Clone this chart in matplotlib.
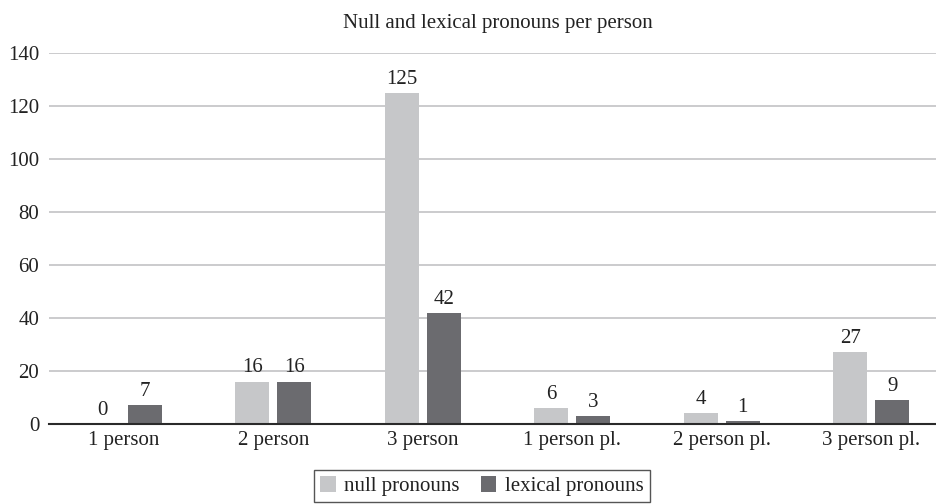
import matplotlib.pyplot as plt
import numpy as np

categories = ["1 person", "2 person", "3 person", "1 person pl.", "2 person pl.", "3 person pl."]
null_pronouns = [0, 16, 125, 6, 4, 27]
lexical_pronouns = [7, 16, 42, 3, 1, 9]

plt.rcParams['font.family'] = ['Liberation Serif', 'DejaVu Serif']
fs = 15

fig = plt.figure(figsize=(9.36, 5.04), dpi=100, facecolor='w')
# axes run a little past the right edge of the figure
ax = fig.add_axes([49 / 936, 80 / 504, 897 / 936, 371 / 504])

x = np.arange(len(categories))
width = 0.227
offset = 0.1405
c_null = '#c6c7c9'
c_lex = '#6b6b6f'

b1 = ax.bar(x - offset, null_pronouns, width, color=c_null, label='null pronouns', zorder=3)
b2 = ax.bar(x + offset, lexical_pronouns, width, color=c_lex, label='lexical pronouns', zorder=3)

for bars, vals in ((b1, null_pronouns), (b2, lexical_pronouns)):
    for rect, v in zip(bars, vals):
        ax.annotate(str(v), (rect.get_x() + rect.get_width() / 2, v),
                    xytext=(0, 3), textcoords='offset points',
                    ha='center', va='bottom', fontsize=fs, color='#222222')

ax.set_xlim(-0.5, len(categories) - 0.5)
ax.set_ylim(0, 140)
ax.set_yticks(range(0, 141, 20))
ax.set_xticks(x)
ax.set_xticklabels(categories)
ax.tick_params(axis='both', length=0, labelsize=fs, colors='#222222')
ax.tick_params(axis='y', pad=7)
ax.tick_params(axis='x', pad=5)

ax.yaxis.grid(True, color='#bdbdc0', linewidth=1.1, zorder=0)
ax.set_axisbelow(True)
for side in ('top', 'right', 'left'):
    ax.spines[side].set_visible(False)
ax.spines['bottom'].set_color('#2a2a2a')
ax.spines['bottom'].set_linewidth(1.5)
ax.spines['bottom'].set_zorder(4)

ax.set_title('Null and lexical pronouns per person', fontsize=fs, color='#222222', pad=18)

leg = fig.legend(handles=[b1, b2], loc='upper center',
                 bbox_to_anchor=(482 / 936, 34 / 504), ncol=2,
                 fontsize=fs, frameon=True, fancybox=False,
                 handlelength=0.75, handleheight=0.75, handletextpad=0.4,
                 columnspacing=1.0, borderpad=0.3, borderaxespad=0)
leg.get_frame().set_edgecolor('#2a2a2a')
leg.get_frame().set_linewidth(1.0)
for t in leg.get_texts():
    t.set_color('#222222')

fig.savefig('out.png', dpi=fig.dpi)
